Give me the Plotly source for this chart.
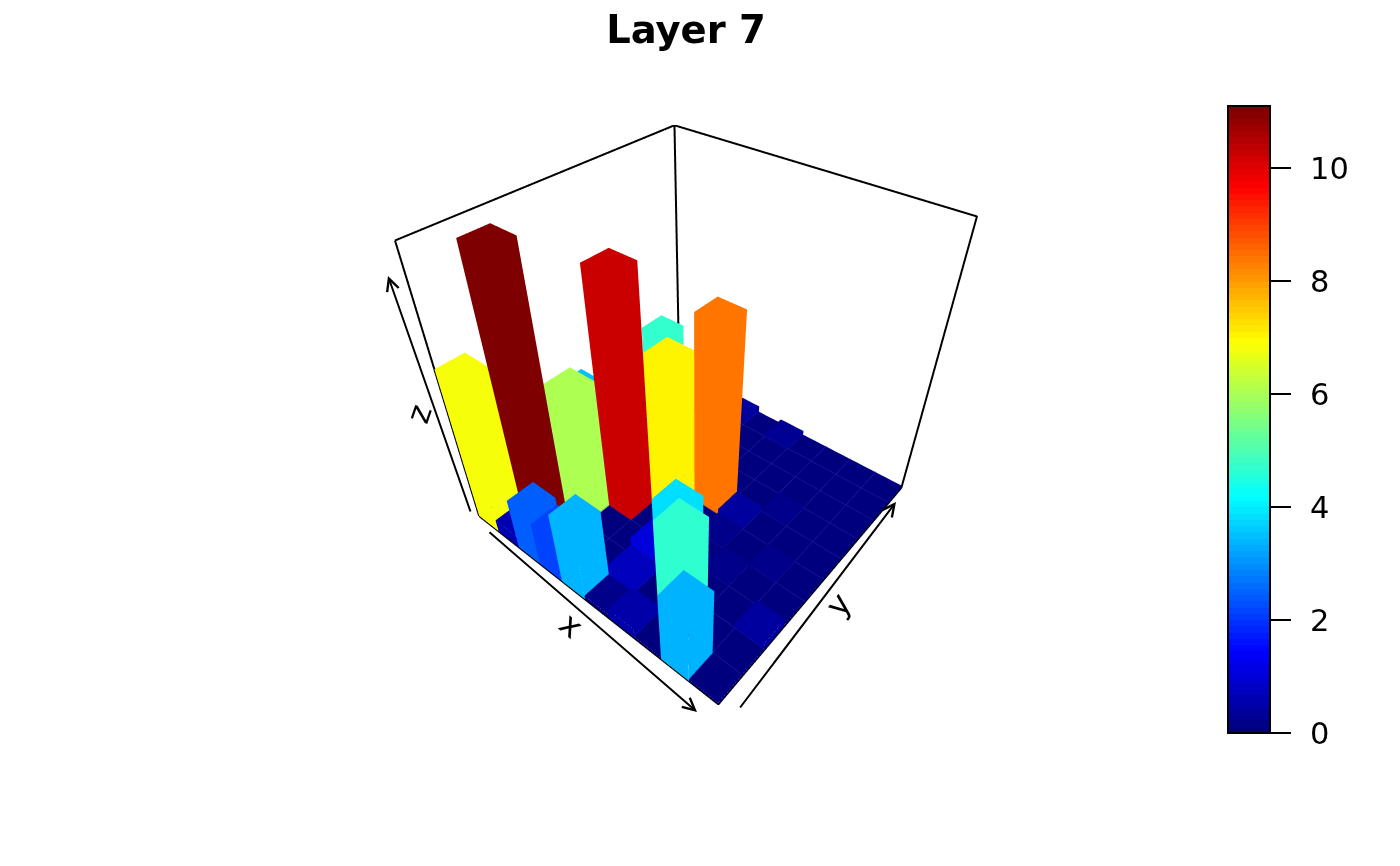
import math
import plotly.graph_objects as go

W, H = 1400, 866
OFF = 8  # the page's own margin
x_edges = [0, 1, 2, 3, 4, 5, 6, 7, 8, 9, 10]
y_edges = [0, 1, 2, 3, 4, 5, 6, 7, 8, 9, 10]
z_max = 11.1
colorbar_ticks = [0, 2, 4, 6, 8, 10]

# rows are x bins, columns are y bins
values_x1 = [6.8, 0.1, 0.1, 0.1, 3.5, 0.1, 0.1, 0.1, 0.1, 0.1]
values_x2 = [0.6, 11.1, 0.1, 0.1, 0.1, 0.1, 0.1, 4.7, 0.1, 0.1]
values_x3 = [2.43, 0.1, 6.0, 0.1, 0.1, 0.1, 0.1, 0.1, 0.1, 0.1]
values_x4 = [2.1, 0.1, 0.1, 10.2, 0.1, 0.1, 0.1, 0.1, 0.1, 0.4]
values_x5 = [3.4, 0.1, 0.1, 0.1, 7.0, 0.1, 0.1, 0.1, 0.1, 0.1]
values_x6 = [0.2, 0.7, 1.05, 0.1, 0.1, 8.4, 0.1, 0.1, 0.1, 0.3]
values_x7 = [0.5, 0.1, 3.8, 0.1, 0.2, 0.4, 0.1, 0.1, 0.1, 0.1]
values_x8 = [0.1, 4.65, 0.1, 0.2, 0.1, 0.1, 0.2, 0.1, 0.1, 0.1]
values_x9 = [3.35, 0.1, 0.1, 0.1, 0.2, 0.1, 0.1, 0.1, 0.1, 0.1]
values_x10 = [0.1, 0.1, 0.4, 0.1, 0.1, 0.1, 0.1, 0.1, 0.1, 0.1]
values = [values_x1, values_x2, values_x3, values_x4, values_x5,
          values_x6, values_x7, values_x8, values_x9, values_x10]

jet_stops = ["#00007F", "#0000FF", "#007FFF", "#00FFFF", "#7FFF7F",
             "#FFFF00", "#FF7F00", "#FF0000", "#7F0000"]


def jet(t):
    t = min(max(t, 0.0), 1.0) * (len(jet_stops) - 1)
    i = min(int(t), len(jet_stops) - 2)
    f = t - i
    a = [int(jet_stops[i][k:k + 2], 16) for k in (1, 3, 5)]
    b = [int(jet_stops[i + 1][k:k + 2], 16) for k in (1, 3, 5)]
    return "rgb(%d,%d,%d)" % tuple(round(p + (q - p) * f) for p, q in zip(a, b))


n_levels = 100
colorscale = []
for lv in range(n_levels):
    c = jet(lv / (n_levels - 1))
    colorscale += [[lv / n_levels, c], [(lv + 1) / n_levels, c]]

vx, vy, vz, fi, fj, fk, fint = [], [], [], [], [], [], []


def add_quad(corners, val):
    start = len(vx)
    for (a, b, c) in corners:
        vx.append(a); vy.append(b); vz.append(c)
    fi.extend([start, start]); fj.extend([start + 1, start + 2]); fk.extend([start + 2, start + 3])
    fint.extend([val, val])


for ix, row in enumerate(values):
    x0, x1 = x_edges[ix], x_edges[ix + 1]
    for iy, h in enumerate(row):
        y0, y1 = y_edges[iy], y_edges[iy + 1]
        add_quad([(x0, y0, h), (x1, y0, h), (x1, y1, h), (x0, y1, h)], h)
        if h > 0:
            add_quad([(x0, y0, 0), (x1, y0, 0), (x1, y0, h), (x0, y0, h)], h)
            add_quad([(x1, y0, 0), (x1, y1, 0), (x1, y1, h), (x1, y0, h)], h)
            add_quad([(x0, y1, 0), (x1, y1, 0), (x1, y1, h), (x0, y1, h)], h)
            add_quad([(x0, y0, 0), (x0, y1, 0), (x0, y1, h), (x0, y0, h)], h)

bars = go.Mesh3d(
    x=vx, y=vy, z=vz, i=fi, j=fj, k=fk,
    intensity=fint, intensitymode="cell",
    colorscale=colorscale, cmin=0, cmax=z_max,
    flatshading=True,
    lighting=dict(ambient=1, diffuse=0, specular=0, roughness=1, fresnel=0),
    showscale=True,
    colorbar=dict(
        lenmode="pixels", len=627, thicknessmode="pixels", thickness=42,
        x=(1228 - OFF) / W, xanchor="left", xpad=0,
        y=1 - (419.5 - OFF) / H, yanchor="middle", ypad=0,
        outlinecolor="black", outlinewidth=2, borderwidth=0,
        tickmode="array", tickvals=colorbar_ticks, ticks="outside",
        ticklen=20, tickwidth=2, tickcolor="black", showticklabels=False,
    ),
    hoverinfo="skip",
)

# faint seams between the floor cells
gx, gy, gz = [], [], []
seam_z = 0.14
for e in x_edges[1:-1]:
    gx += [e, e, None]; gy += [y_edges[0], y_edges[-1], None]; gz += [seam_z, seam_z, None]
for e in y_edges[1:-1]:
    gx += [x_edges[0], x_edges[-1], None]; gy += [e, e, None]; gz += [seam_z, seam_z, None]
seams = go.Scatter3d(x=gx, y=gy, z=gz, mode="lines",
                     line=dict(color="#23239f", width=1), hoverinfo="skip", showlegend=False)

xa, xb = x_edges[0], x_edges[-1]
ya, yb = y_edges[0], y_edges[-1]
box_x = [xa, xb, xb, xa, xa, None, xa, xa, xb, xb, None, xa, xa, None, xa, xa]
box_y = [ya, ya, yb, yb, ya, None, ya, yb, yb, yb, None, yb, yb, None, ya, ya]
box_z = [0, 0, 0, 0, 0, None, z_max, z_max, z_max, 0, None, 0, z_max, None, 0, z_max]
box = go.Scatter3d(x=box_x, y=box_y, z=box_z, mode="lines",
                   line=dict(color="black", width=4), hoverinfo="skip", showlegend=False)

# camera
theta = 0.6961
phi = 0.7253
rho = 2.1414
center = dict(x=0.0039, y=0.0032, z=-0.1307)
dirv = (math.cos(phi) * math.sin(theta), -math.cos(phi) * math.cos(theta), math.sin(phi))
eye = dict(x=center["x"] + rho * dirv[0], y=center["y"] + rho * dirv[1], z=center["z"] + rho * dirv[2])

scene_cx, scene_cy, scene_h = 696.1, 420.47, 591.07
dom_left, dom_right = scene_cx - OFF - 330, scene_cx - OFF + 330
dom_top, dom_bottom = scene_cy - OFF - scene_h / 2, scene_cy - OFF + scene_h / 2

fig = go.Figure([bars, seams, box])
fig.update_layout(
    width=W, height=H, autosize=False,
    margin=dict(l=0, r=0, t=0, b=0),
    paper_bgcolor="white", plot_bgcolor="white",
    showlegend=False,
    title=dict(text="<b>Layer 7</b>", x=(686 - OFF) / W, xanchor="center",
               y=1 - (30 - OFF) / H, yanchor="middle",
               font=dict(family="DejaVu Sans", size=38.5, color="black")),
    scene=dict(
        domain=dict(x=[dom_left / W, dom_right / W], y=[1 - dom_bottom / H, 1 - dom_top / H]),
        xaxis=dict(visible=False, range=[xa, xb], autorange=False),
        yaxis=dict(visible=False, range=[ya, yb], autorange=False),
        zaxis=dict(visible=False, range=[0, z_max], autorange=False),
        aspectmode="manual", aspectratio=dict(x=1, y=1, z=0.9841),
        bgcolor="rgba(0,0,0,0)",
        camera=dict(eye=eye, center=center, up=dict(x=0, y=0, z=1),
                    projection=dict(type="perspective")),
    ),
)


def px(x, y):
    return (x - OFF) / W, 1 - (y - OFF) / H


for (hx, hy, tx, ty) in [(697, 712, 488, 531), (896, 502, 739, 709), (388, 276, 471, 513)]:
    X, Y = px(hx, hy)
    fig.add_annotation(x=X, y=Y, xref="paper", yref="paper", text="", showarrow=True,
                       ax=tx - hx, ay=ty - hy, axref="pixel", ayref="pixel",
                       arrowhead=5, arrowsize=1.2, arrowwidth=2, arrowcolor="black", standoff=0)

for (txt, lx, ly, ang) in [("x", 571, 625, 40), ("y", 838, 605, -52), ("z", 419, 414, -71)]:
    X, Y = px(lx, ly)
    fig.add_annotation(x=X, y=Y, xref="paper", yref="paper", text=txt, showarrow=False,
                       textangle=ang, font=dict(family="DejaVu Sans", size=32, color="black"),
                       xanchor="center", yanchor="middle")

# colour-bar tick labels, placed on the bar's own 0..z_max scale
bar_bottom, bar_top = 733, 106
for v in colorbar_ticks:
    yy = bar_bottom - (bar_bottom - bar_top) * v / z_max
    X, Y = px(1309, yy)
    fig.add_annotation(x=X, y=Y, xref="paper", yref="paper", text=str(v), showarrow=False,
                       font=dict(family="DejaVu Sans", size=30.5, color="black"),
                       xanchor="left", yanchor="middle", xshift=-1)

fig.write_html("out.html")
